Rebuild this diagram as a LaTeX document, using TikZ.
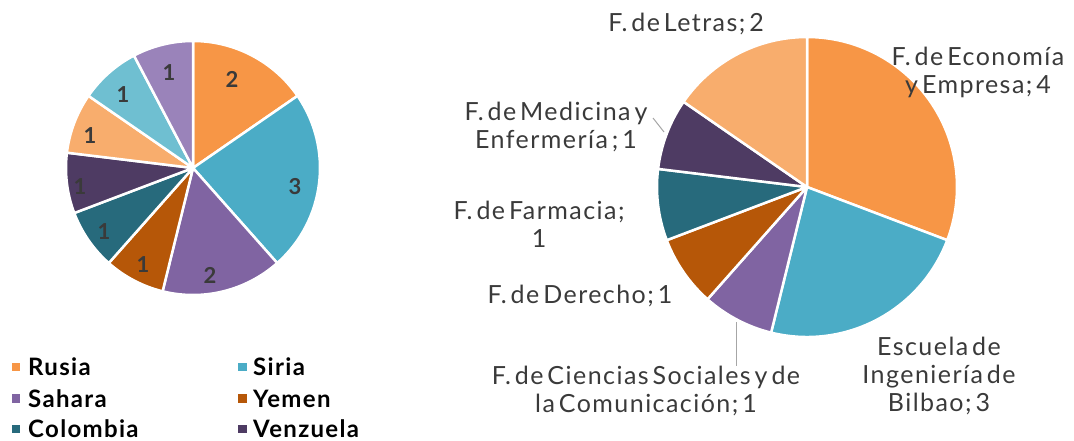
\documentclass[tikz,border=0pt]{standalone}
\usepackage{fontspec}
\setmainfont{Lato}
\newfontfamily\labfont[WordSpace=0.5,LetterSpace=5.8]{Lato}
\newfontfamily\legfont[LetterSpace=5.5]{Lato}
\definecolor{cOr}{HTML}{F79646}
\definecolor{cBl}{HTML}{4BACC6}
\definecolor{cPu}{HTML}{8064A2}
\definecolor{cDOr}{HTML}{B65708}
\definecolor{cTe}{HTML}{276A7C}
\definecolor{cDPu}{HTML}{4E3B63}
\definecolor{cLOr}{HTML}{F8AD6D}
\definecolor{cLBl}{HTML}{6FBFD1}
\definecolor{cLPu}{HTML}{9A83BA}
\definecolor{txt}{HTML}{3A3A3A}
\definecolor{lead}{HTML}{A6A6A6}
\begin{document}
\begin{tikzpicture}[x=1pt,y=-1pt,
  num/.style={inner sep=0pt, text=txt, font=\fontsize{22}{24}\selectfont\bfseries},
  lab/.style={inner sep=0pt, text=txt, align=center, font=\labfont\fontsize{25}{28}\selectfont},
  legsq/.style={inner sep=0pt, minimum size=8.5pt, draw=none},
  legtxt/.style={inner sep=0pt, anchor=base west, text=black, font=\legfont\fontsize{24}{27}\selectfont\bfseries},
  leader/.style={draw=lead, line width=1pt}]
\useasboundingbox (0,0) rectangle (1074,441);
\def\u{27.6923077}
\newcommand{\pieslice}[6]{%
  \fill[#6,draw=white,line width=2.5pt,line join=round] (#1,#2) -- ++({#4*\u-90}:#3)
    arc[start angle={#4*\u-90}, end angle={#5*\u-90}, radius=#3] -- cycle;}
% left pie
\pieslice{193}{168}{127}{0}{2}{cOr}
\pieslice{193}{168}{127}{2}{5}{cBl}
\pieslice{193}{168}{127}{5}{7}{cPu}
\pieslice{193}{168}{127}{7}{8}{cDOr}
\pieslice{193}{168}{127}{8}{9}{cTe}
\pieslice{193}{168}{127}{9}{10}{cDPu}
\pieslice{193}{168}{127}{10}{11}{cLOr}
\pieslice{193}{168}{127}{11}{12}{cLBl}
\pieslice{193}{168}{127}{12}{13}{cLPu}
\node[num] (nRu) at (232,79) {2};
\node[num] (nSi) at (295,187) {3};
\node[num] (nSa) at (210,275) {2};
\node[num] (nYe) at (143,265) {1};
\node[num] (nCo) at (104,232) {1};
\node[num] (nVe) at (80,187) {1};
\node[num] (nLO) at (90,136) {1};
\node[num] (nLB) at (123,95) {1};
\node[num] (nLP) at (169,73) {1};
% legend
\node[legsq, fill=cOr] (sRu) at (16,367) {};
\node[legtxt] (lRu) at (28,375.5) {Rusia};
\node[legsq, fill=cBl] (sSi) at (242.5,367) {};
\node[legtxt] (lSi) at (253,375.5) {Siria};
\node[legsq, fill=cPu] (sSa) at (16,398.5) {};
\node[legtxt] (lSa) at (28,407) {Sahara};
\node[legsq, fill=cDOr] (sYe) at (242.5,398.5) {};
\node[legtxt] (lYe) at (253,407) {Yemen};
\node[legsq, fill=cTe] (sCo) at (16,429) {};
\node[legtxt] (lCo) at (28,437.5) {Colombia};
\node[legsq, fill=cDPu] (sVe) at (242.5,429) {};
\node[legtxt] (lVe) at (253,437.5) {Venzuela};
% right pie
\pieslice{807}{187}{150}{0}{4}{cOr}
\pieslice{807}{187}{150}{4}{7}{cBl}
\pieslice{807}{187}{150}{7}{8}{cPu}
\pieslice{807}{187}{150}{8}{9}{cDOr}
\pieslice{807}{187}{150}{9}{10}{cTe}
\pieslice{807}{187}{150}{10}{11}{cDPu}
\pieslice{807}{187}{150}{11}{13}{cLOr}
% right labels
\node[lab, anchor=base] (Let) at (686,32) {F. de Letras; 2};
\node[lab, anchor=north] (Eco) at (978,47) {F. de Economía\\y Empresa; 4};
\node[lab, anchor=north] (Med) at (556,102) {F. de Medicina y\\Enfermería ; 1};
\node[lab, anchor=north] (Far) at (539,201) {F. de Farmacia;\\1};
\node[lab, anchor=base] (Der) at (580,303) {F. de Derecho; 1};
\node[lab, anchor=north] (Cie) at (646,366) {F. de Ciencias Sociales y de\\la Comunicación; 1};
\node[lab, anchor=north] (Esc) at (939,337) {Escuela de\\Ingeniería de\\Bilbao; 3};
\coordinate (pMed) at (664,132);
\coordinate (qMed) at (653,118);
\coordinate (pCie) at (736,322);
\draw[leader] (pMed) -- (qMed);
\draw[leader] (pCie) -- (Cie.north -| pCie);
\end{tikzpicture}
\end{document}
